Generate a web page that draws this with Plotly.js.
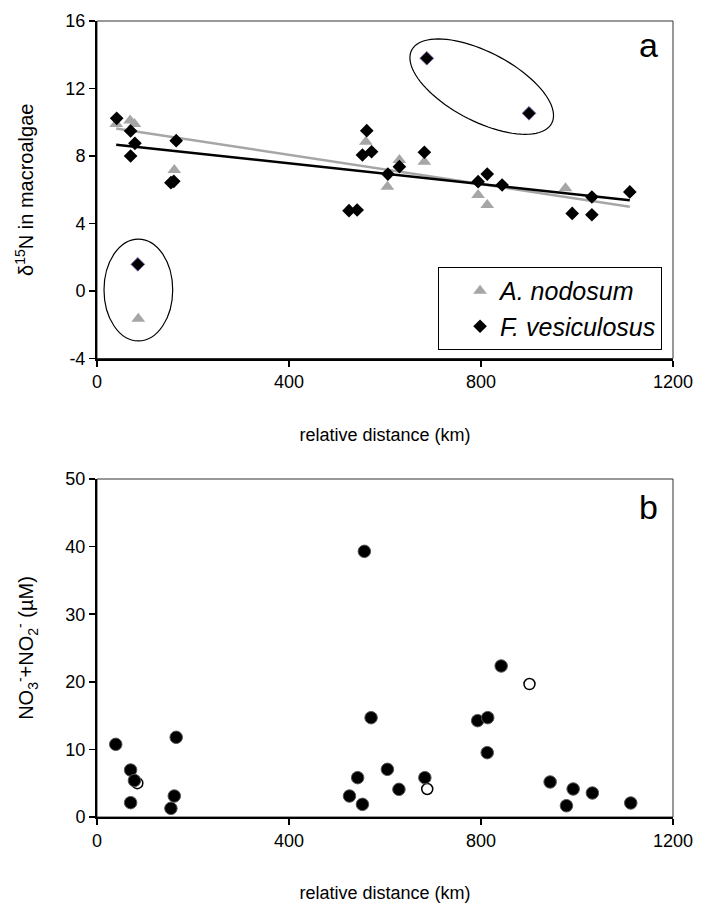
<!DOCTYPE html>
<html><head><meta charset="utf-8">
<script src="https://cdn.plot.ly/plotly-3.0.1.min.js"></script>
<style>html,body{margin:0;padding:0;background:#fff}#chart{width:706px;height:920px}</style>
</head><body><div id="chart"></div>
<script>
// ---- Panel a: delta15N in macroalgae ----
const anodX = [40, 69, 78, 161, 560, 605, 630, 682, 794, 813, 976];
const anodY = [9.9, 10.1, 9.9, 7.17, 8.85, 6.18, 7.76, 7.66, 5.69, 5.10, 6.09];
const anodOutX = [86];
const anodOutY = [-1.65];
const fvesX = [41, 70, 79, 70, 165, 154, 160, 562, 553, 572, 606, 525, 542, 630, 682, 794, 813, 844, 1031, 990, 1031, 1110];
const fvesY = [10.23, 9.48, 8.75, 8.0, 8.91, 6.42, 6.5, 9.5, 8.06, 8.25, 6.93, 4.76, 4.8, 7.37, 8.22, 6.48, 6.93, 6.28, 5.57, 4.6, 4.52, 5.87];
const fvesOutX = [85, 687, 900];
const fvesOutY = [1.58, 13.79, 10.53];
const seriesNames = ['<i>A. nodosum</i>', '<i>F. vesiculosus</i>'];

// ---- Panel b: NO3- + NO2- ----
const no3FilledX = [39, 70, 78, 70, 154, 161, 165, 526, 543, 553, 557, 571, 605, 629, 683, 793, 814, 813, 842, 944, 992, 978, 1032, 1112];
const no3FilledY = [10.75, 6.95, 5.4, 2.12, 1.28, 3.1, 11.79, 3.1, 5.82, 1.87, 39.3, 14.69, 7.05, 4.09, 5.82, 14.25, 14.7, 9.52, 22.34, 5.18, 4.14, 1.67, 3.55, 2.07];
const no3OpenX = [84, 688, 901];
const no3OpenY = [5.0, 4.14, 19.67];

// ---- Axes ----
const xTickVals = [0, 400, 800, 1200];
const xTickText = ['0', '400', '800', '1200'];
const yaTickVals = [-4, 0, 4, 8, 12, 16];
const yaTickText = ['-4', '0', '4', '8', '12', '16'];
const ybTickVals = [0, 10, 20, 30, 40, 50];
const ybTickText = ['0', '10', '20', '30', '40', '50'];

function ols(xs, ys) {
  const n = xs.length;
  const mx = xs.reduce((a, b) => a + b, 0) / n;
  const my = ys.reduce((a, b) => a + b, 0) / n;
  let sxy = 0, sxx = 0;
  for (let i = 0; i < n; i++) { sxy += (xs[i] - mx) * (ys[i] - my); sxx += (xs[i] - mx) ** 2; }
  const m = sxy / sxx;
  return { m: m, b: my - m * mx };
}
const allX = anodX.concat(fvesX);
const xMin = Math.min(...allX), xMax = Math.max(...allX);
const fitA = ols(anodX, anodY);
const fitF = ols(fvesX, fvesY);

const FONT = 'Liberation Sans, Arial, sans-serif';
const W = 706, H = 920;
const M = { l: 97, r: 33, t: 21, b: 103 };
const plotW = W - M.l - M.r, plotH = H - M.t - M.b;
const domA = [1 - 337.5 / plotH, 1];
const domB = [0, 338 / plotH];
const pxX = plotW / 1200;
const pxYa = plotH * (domA[1] - domA[0]) / 20;

function ellipsePath(cx, cy, aPx, bPx, angDeg) {
  const th = angDeg * Math.PI / 180;
  let d = '';
  for (let i = 0; i <= 90; i++) {
    const t = i / 90 * 2 * Math.PI;
    const dx = aPx * Math.cos(t) * Math.cos(th) - bPx * Math.sin(t) * Math.sin(th);
    const dy = aPx * Math.cos(t) * Math.sin(th) + bPx * Math.sin(t) * Math.cos(th);
    d += (i ? 'L' : 'M') + (cx + dx / pxX).toFixed(2) + ',' + (cy - dy / pxYa).toFixed(3);
  }
  return d + 'Z';
}

const traces = [
  { x: anodX, y: anodY, type: 'scatter', mode: 'markers', name: seriesNames[0], xaxis: 'x', yaxis: 'y',
    marker: { symbol: 'triangle-up', size: 12, color: '#a6a6a6' } },
  { x: anodOutX, y: anodOutY, type: 'scatter', mode: 'markers', showlegend: false, xaxis: 'x', yaxis: 'y',
    marker: { symbol: 'triangle-up', size: 12, color: '#a6a6a6' } },
  { x: [xMin, xMax], y: [fitA.b + fitA.m * xMin, fitA.b + fitA.m * xMax], type: 'scatter', mode: 'lines',
    showlegend: false, xaxis: 'x', yaxis: 'y', line: { color: '#a6a6a6', width: 2.5 } },
  { x: [xMin, xMax], y: [fitF.b + fitF.m * xMin, fitF.b + fitF.m * xMax], type: 'scatter', mode: 'lines',
    showlegend: false, xaxis: 'x', yaxis: 'y', line: { color: '#000', width: 2.5 } },
  { x: fvesX, y: fvesY, type: 'scatter', mode: 'markers', name: seriesNames[1], xaxis: 'x', yaxis: 'y',
    marker: { symbol: 'diamond', size: 10.5, color: '#000' } },
  { x: fvesOutX, y: fvesOutY, type: 'scatter', mode: 'markers', showlegend: false, xaxis: 'x', yaxis: 'y',
    marker: { symbol: 'diamond', size: 10.5, color: '#000', line: { color: '#7a5ca8', width: 1 } } },
  { x: no3OpenX, y: no3OpenY, type: 'scatter', mode: 'markers', showlegend: false, xaxis: 'x2', yaxis: 'y2',
    marker: { symbol: 'circle', size: 11, color: '#fff', line: { color: '#000', width: 1.5 } } },
  { x: no3FilledX, y: no3FilledY, type: 'scatter', mode: 'markers', showlegend: false, xaxis: 'x2', yaxis: 'y2',
    marker: { symbol: 'circle', size: 12.5, color: '#000', line: { color: '#555', width: 1 } } }
];

const axisCommon = {
  showgrid: false, zeroline: false, showline: true, linecolor: '#000', linewidth: 2,
  ticks: 'outside', ticklen: 6, tickwidth: 1.5, tickcolor: '#000',
  tickfont: { family: FONT, size: 18, color: '#000' }, tickmode: 'array'
};
const xTitle = { text: 'relative distance (km)', font: { family: FONT, size: 18, color: '#000' }, standoff: 37 };

const layout = {
  width: W, height: H, margin: M, paper_bgcolor: '#fff', plot_bgcolor: '#fff',
  font: { family: FONT, color: '#000' },
  xaxis: Object.assign({}, axisCommon, { domain: [0, 1], range: [0, 1200], anchor: 'y',
    tickvals: xTickVals, ticktext: xTickText, title: xTitle, automargin: true }),
  yaxis: Object.assign({}, axisCommon, { domain: domA, range: [-4, 16], anchor: 'x',
    tickvals: yaTickVals, ticktext: yaTickText, automargin: true,
    title: { text: 'δ<sup>15</sup>N in macroalgae', font: { family: FONT, size: 20, color: '#000' }, standoff: 26 } }),
  xaxis2: Object.assign({}, axisCommon, { domain: [0, 1], range: [0, 1200], anchor: 'y2',
    tickvals: xTickVals, ticktext: xTickText, title: xTitle, automargin: true }),
  yaxis2: Object.assign({}, axisCommon, { domain: domB, range: [0, 50], anchor: 'x2',
    tickvals: ybTickVals, ticktext: ybTickText, automargin: true,
    title: { text: 'NO<sub>3</sub><sup>-</sup>+NO<sub>2</sub><sup>-</sup> (µM)', font: { family: FONT, size: 20, color: '#000' }, standoff: 26 } }),
  showlegend: true,
  legend: { x: 0.981, xanchor: 'right', y: 0.5867, yanchor: 'bottom', bgcolor: '#fff',
    bordercolor: '#000', borderwidth: 1, font: { family: FONT, size: 25, color: '#000' },
    tracegroupgap: 0, itemsizing: 'trace', indentation: 21 },
  shapes: [
    { type: 'rect', xref: 'paper', yref: 'paper', x0: 0, x1: 1, y0: domA[0], y1: domA[1], line: { color: '#333', width: 1 }, layer: 'below' },
    { type: 'rect', xref: 'paper', yref: 'paper', x0: 0, x1: 1, y0: domB[0], y1: domB[1], line: { color: '#333', width: 1 }, layer: 'below' },
    { type: 'circle', xref: 'x', yref: 'y', x0: 14.6, x1: 157.7, y0: -2.96, y1: 3.08, line: { color: '#000', width: 1.2 } },
    { type: 'path', xref: 'x', yref: 'y', path: ellipsePath(801.5, 12.11, 79, 34.5, 27.6), line: { color: '#000', width: 1.2 } }
  ],
  annotations: [
    { text: 'a', xref: 'paper', yref: 'paper', x: 0.957, y: (817 - 45) / plotH, xanchor: 'center', yanchor: 'middle',
      showarrow: false, font: { family: FONT, size: 34, color: '#000' } },
    { text: 'b', xref: 'paper', yref: 'paper', x: 0.957, y: (817 - 507) / plotH, xanchor: 'center', yanchor: 'middle',
      showarrow: false, font: { family: FONT, size: 34, color: '#000' } }
  ]
};
Plotly.newPlot('chart', traces, layout, { displayModeBar: false, staticPlot: true });
</script>
</body></html>
